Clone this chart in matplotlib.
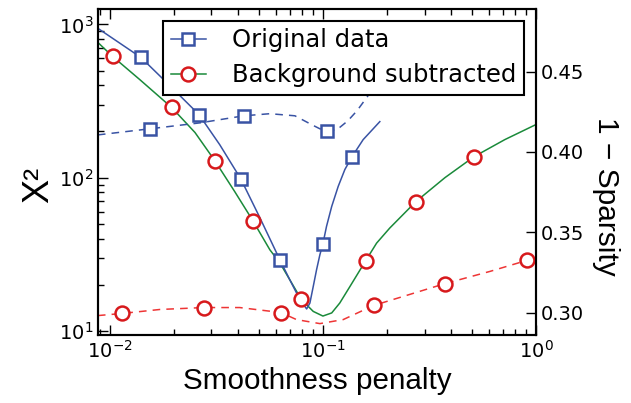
import numpy as np
import matplotlib
matplotlib.use('Agg')
import matplotlib.pyplot as plt
from matplotlib.lines import Line2D

plt.rcParams['font.family'] = 'DejaVu Sans'
plt.rcParams['xtick.direction'] = 'in'
plt.rcParams['ytick.direction'] = 'in'

# chi^2, original data (markers)
orig_x = [0.0140, 0.0262, 0.0412, 0.0628, 0.100, 0.137]
orig_chi = [608, 258, 98, 29.1, 37, 137]
# chi^2, original data (smooth curve)
orig_cx = [0.00879, 0.0140, 0.0191, 0.0262, 0.0328, 0.0412, 0.0506, 0.0628, 0.0700,
           0.0780, 0.0839, 0.0869, 0.0901, 0.0934, 0.0968, 0.100, 0.104, 0.110,
           0.118, 0.1268, 0.137, 0.1545, 0.185]
orig_cy = [942, 608, 399, 258, 164, 98, 54.8, 29.1, 21.5,
           16.0, 13.9, 15.2, 19.5, 25.1, 31.4, 37, 48.1, 64.9,
           87.7, 113, 137, 177, 232]

# chi^2, background subtracted (markers)
bg_x = [0.0103, 0.0195, 0.0311, 0.0469, 0.0789, 0.159, 0.273, 0.512]
bg_chi = [618, 287, 129, 52.4, 16.2, 28.7, 69.7, 137]
# chi^2, background subtracted (smooth curve)
bg_cx = [0.00879, 0.0103, 0.0138, 0.0195, 0.0251, 0.0311, 0.0386, 0.0469, 0.0564,
         0.0628, 0.0700, 0.0793, 0.0901, 0.100, 0.110, 0.120, 0.134, 0.159,
         0.1787, 0.206, 0.273, 0.374, 0.512, 0.714, 1.0]
bg_cy = [762, 618, 437, 287, 197, 129, 80.9, 52.4, 33.8,
         27.8, 21.5, 16.0, 13.4, 12.5, 13.1, 15.2, 19.5, 28.8,
         37.4, 46.9, 69.7, 100, 137, 177, 222]

# 1 - sparsity, original data
orig_sx = [0.0154, 0.0426, 0.1045]
orig_sp = [0.4144, 0.4225, 0.4131]
orig_scx = [0.00879, 0.0154, 0.0265, 0.0426, 0.0564, 0.0739, 0.0888, 0.0968,
            0.1045, 0.1163, 0.131, 0.1445, 0.159, 0.1775]
orig_scy = [0.4106, 0.4144, 0.4181, 0.4225, 0.4238, 0.4225, 0.4169, 0.4144,
            0.4131, 0.4138, 0.4194, 0.4256, 0.4331, 0.4419]

# 1 - sparsity, background subtracted
bg_sx = [0.01138, 0.0276, 0.0635, 0.173, 0.374, 0.908]
bg_sp = [0.2994, 0.3031, 0.300, 0.3044, 0.318, 0.3325]
bg_scx = [0.00879, 0.01138, 0.01717, 0.0276, 0.0407, 0.0635, 0.0752, 0.0968,
          0.1245, 0.173, 0.256, 0.374, 0.608, 0.908, 1.0]
bg_scy = [0.2981, 0.2994, 0.3019, 0.3031, 0.3031, 0.300, 0.2956, 0.2931,
          0.2956, 0.3044, 0.3113, 0.318, 0.3256, 0.3325, 0.3344]

blue = '#3953a4'
green = '#1a8a3a'
red = '#d7191c'
red2 = '#ee3535'

fig = plt.figure(figsize=(6.31, 4.03), dpi=100)
ax = fig.add_axes([0.1553, 0.1687, 0.6941, 0.809])
ax2 = ax.twinx()

ax.plot(bg_cx, bg_cy, '-', color=green, lw=1.1)
ax.plot(orig_cx, orig_cy, '-', color=blue, lw=1.1)
ax.plot(orig_x, orig_chi, 's', mfc='white', mec=blue, mew=1.8, ms=9)
ax.plot(bg_x, bg_chi, 'o', mfc='white', mec=red, mew=1.8, ms=10)

ax2.plot(orig_scx, orig_scy, '--', color=blue, lw=1.1, dashes=(5, 4))
ax2.plot(bg_scx, bg_scy, '--', color=red2, lw=1.1, dashes=(5, 4))
ax2.plot(orig_sx, orig_sp, 's', mfc='white', mec=blue, mew=1.8, ms=9)
ax2.plot(bg_sx, bg_sp, 'o', mfc='white', mec=red, mew=1.8, ms=10)

ax.set_xscale('log')
ax.set_yscale('log')
ax.set_xlim(0.0088, 1.0)
ax.set_ylim(9.4, 1260)
ax2.set_ylim(0.286, 0.489)
ax2.set_yticks([0.30, 0.35, 0.40, 0.45])
ax2.set_yticklabels(['0.30', '0.35', '0.40', '0.45'])

for a in (ax, ax2):
    a.tick_params(labelsize=14, which='major', length=7, width=1)
    a.tick_params(which='minor', length=4, width=1)
    for s in a.spines.values():
        s.set_linewidth(1.5)
ax.tick_params(axis='x', which='both', top=True)
ax.tick_params(axis='y', which='both', right=False)

lab = ['Liberation Sans', 'DejaVu Sans']
ax.set_xlabel('Smoothness penalty', fontsize=21.3, family=lab)
ax.set_ylabel('X\u00b2', fontsize=26, family=lab)
ax.yaxis.set_label_coords(-0.095, 0.46)
ax2.set_ylabel('1 \u2212 Sparsity', fontsize=21.5, rotation=270, family=lab,
               va='center')
ax2.yaxis.set_label_coords(1.16, 0.425)

h1 = Line2D([], [], color=blue, lw=1.1, marker='s', mfc='white', mec=blue, mew=1.8, ms=9)
h2 = Line2D([], [], color=green, lw=1.1, marker='o', mfc='white', mec=red, mew=1.8, ms=10)
leg = ax2.legend([h1, h2], ['Original data', 'Background subtracted'],
                 loc='upper right', bbox_to_anchor=(0.973, 0.963), borderaxespad=0,
                 fontsize=17.5, fancybox=False, framealpha=1, edgecolor='black',
                 handlelength=1.45, handletextpad=1.1, numpoints=1,
                 borderpad=0.3, labelspacing=0.45)
leg.get_frame().set_linewidth(1.5)

plt.savefig('out.png', dpi=100)
